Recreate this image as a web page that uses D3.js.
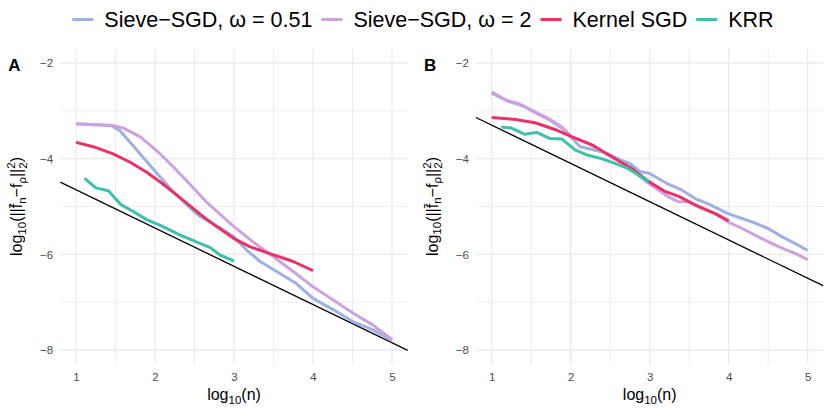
<!DOCTYPE html>
<html>
<head>
<meta charset="utf-8">
<script src="https://cdn.jsdelivr.net/npm/d3@7"></script>
<style>
  html, body { margin: 0; padding: 0; background: #fff; }
  svg { display: block; font-family: "Liberation Sans", Arial, Helvetica, sans-serif; }
</style>
</head>
<body>
<svg id="chart" width="830" height="415"></svg>
<script>
// ---------- DATA ----------
const seriesNames = ["Sieve\u2212SGD, \u03c9 = 0.51", "Sieve\u2212SGD, \u03c9 = 2", "Kernel SGD", "KRR"];
const seriesColors = ["#9fb0e2", "#cea2df", "#e8336a", "#3ec0aa"];
const panelLabels = ["A", "B"];

const xTicks = [1, 2, 3, 4, 5];
const yTicks = [-2, -4, -6, -8];
const xMinor = [1.5, 2.5, 3.5, 4.5];
const yMinor = [-3, -5, -7];
const xDomain = [0.8, 5.2];
const yDomain = [-8.3, -1.7];

// reference line (black): y = intercept + slope * x
const refIntercept = [-3.85, -2.50];
const refSlope = [-0.8, -0.8];

// Panel A
const aSieve051X = [1, 1.25, 1.45, 1.56, 1.77, 1.98, 2.19, 2.4, 2.57, 2.8, 3.0, 3.16, 3.33, 3.54, 3.79, 4.0, 4.26, 4.51, 4.76, 5.0];
const aSieve051Y = [-3.27, -3.29, -3.31, -3.42, -3.82, -4.22, -4.62, -4.96, -5.21, -5.42, -5.64, -5.91, -6.15, -6.36, -6.61, -6.92, -7.16, -7.41, -7.58, -7.80];
const aSieve2X = [1, 1.25, 1.45, 1.6, 1.81, 2.02, 2.23, 2.45, 2.66, 2.85, 3.0, 3.24, 3.5, 3.75, 4.0, 4.26, 4.51, 4.76, 5.0];
const aSieve2Y = [-3.27, -3.29, -3.30, -3.36, -3.54, -3.83, -4.17, -4.55, -4.92, -5.20, -5.42, -5.74, -6.05, -6.36, -6.68, -6.96, -7.23, -7.48, -7.78];
const aKernelX = [1, 1.22, 1.47, 1.68, 1.89, 2.1, 2.32, 2.57, 2.78, 3.0, 3.2, 3.5, 3.75, 4.0];
const aKernelY = [-3.66, -3.75, -3.90, -4.07, -4.28, -4.53, -4.82, -5.16, -5.42, -5.67, -5.84, -6.01, -6.15, -6.34];
const aKrrX = [1.11, 1.25, 1.41, 1.56, 1.73, 1.9, 2.06, 2.32, 2.57, 2.7, 2.82, 3.0];
const aKrrY = [-4.41, -4.61, -4.67, -4.95, -5.11, -5.28, -5.39, -5.60, -5.77, -5.86, -6.01, -6.14];

// Panel B
const bSieve051X = [1, 1.19, 1.4, 1.55, 1.72, 1.89, 2.12, 2.3, 2.46, 2.62, 2.75, 2.88, 3.0, 3.22, 3.39, 3.58, 3.75, 3.99, 4.17, 4.34, 4.5, 4.67, 4.84, 5.0];
const bSieve051Y = [-2.63, -2.79, -2.90, -3.04, -3.18, -3.36, -3.75, -3.82, -3.89, -4.02, -4.10, -4.27, -4.31, -4.52, -4.64, -4.84, -4.95, -5.15, -5.25, -5.35, -5.46, -5.63, -5.77, -5.92];
const bSieve2X = [1, 1.19, 1.34, 1.55, 1.72, 1.89, 2.01, 2.22, 2.48, 2.73, 2.99, 3.24, 3.36, 3.49, 3.66, 3.83, 3.99, 4.17, 4.42, 4.63, 4.84, 5.0];
const bSieve2Y = [-2.61, -2.78, -2.85, -3.02, -3.16, -3.34, -3.54, -3.68, -3.93, -4.17, -4.52, -4.80, -4.90, -4.90, -5.04, -5.15, -5.32, -5.46, -5.67, -5.84, -5.98, -6.11];
const bKernelX = [1, 1.3, 1.55, 1.8, 2.01, 2.27, 2.52, 2.77, 2.99, 3.2, 3.37, 3.58, 3.83, 4.0];
const bKernelY = [-3.14, -3.18, -3.25, -3.39, -3.54, -3.71, -3.96, -4.20, -4.48, -4.69, -4.79, -4.97, -5.15, -5.30];
const bKrrX = [1.12, 1.25, 1.42, 1.57, 1.74, 1.89, 2.06, 2.22, 2.39, 2.56, 2.73, 2.99];
const bKrrY = [-3.34, -3.36, -3.49, -3.45, -3.58, -3.59, -3.82, -3.93, -4.00, -4.10, -4.21, -4.48];

const panelSeries = [
  [[aSieve051X, aSieve051Y], [aSieve2X, aSieve2Y], [aKernelX, aKernelY], [aKrrX, aKrrY]],
  [[bSieve051X, bSieve051Y], [bSieve2X, bSieve2Y], [bKernelX, bKernelY], [bKrrX, bKrrY]]
];

// ---------- LAYOUT ----------
const svg = d3.select("#chart");
const panelLeft = [60.2, 475.9];
const panelWidth = 347.6;
const panelTop = 48.65, panelBottom = 364.35;
const gridColor = "#ebebeb";
const tickColor = "#4d4d4d";

panelSeries.forEach((series, p) => {
  const x = d3.scaleLinear().domain(xDomain).range([panelLeft[p], panelLeft[p] + panelWidth]);
  const y = d3.scaleLinear().domain(yDomain).range([panelBottom, panelTop]);
  const g = svg.append("g");

  // minor grid
  g.selectAll(".vmin").data(xMinor).join("line")
    .attr("x1", d => x(d)).attr("x2", d => x(d))
    .attr("y1", panelTop).attr("y2", panelBottom)
    .attr("stroke", gridColor).attr("stroke-width", 0.9);
  g.selectAll(".hmin").data(yMinor).join("line")
    .attr("y1", d => y(d)).attr("y2", d => y(d))
    .attr("x1", x.range()[0]).attr("x2", x.range()[1])
    .attr("stroke", gridColor).attr("stroke-width", 0.9);
  // major grid
  g.selectAll(".vmaj").data(xTicks).join("line")
    .attr("x1", d => x(d)).attr("x2", d => x(d))
    .attr("y1", panelTop).attr("y2", panelBottom)
    .attr("stroke", gridColor).attr("stroke-width", 1.3);
  g.selectAll(".hmaj").data(yTicks).join("line")
    .attr("y1", d => y(d)).attr("y2", d => y(d))
    .attr("x1", x.range()[0]).attr("x2", x.range()[1])
    .attr("stroke", gridColor).attr("stroke-width", 1.3);

  // axes tick labels via d3 axes
  const xAxis = d3.axisBottom(x).tickValues(xTicks).tickSize(0).tickPadding(0).tickFormat(d3.format("d"));
  const gx = g.append("g").attr("transform", `translate(0,${panelBottom + 17})`).call(xAxis);
  gx.select(".domain").remove();
  gx.selectAll("text").attr("fill", tickColor).attr("font-size", 11.5).attr("dy", "0").attr("font-family", "Liberation Sans, Arial, sans-serif");

  const yAxis = d3.axisLeft(y).tickValues(yTicks).tickSize(0).tickPadding(0)
    .tickFormat(d => (d < 0 ? "\u2212" : "") + Math.abs(d));
  const gy = g.append("g").attr("transform", `translate(${panelLeft[p] - 7},0)`).call(yAxis);
  gy.select(".domain").remove();
  gy.selectAll("text").attr("fill", tickColor).attr("font-size", 11.5).attr("font-family", "Liberation Sans, Arial, sans-serif");

  // clip
  const clipId = "clip" + p;
  svg.append("clipPath").attr("id", clipId).append("rect")
    .attr("x", x.range()[0]).attr("y", panelTop)
    .attr("width", panelWidth).attr("height", panelBottom - panelTop);

  // reference line
  const refXs = xDomain;
  g.append("line")
    .attr("clip-path", `url(#${clipId})`)
    .attr("x1", x(refXs[0])).attr("y1", y(refIntercept[p] + refSlope[p] * refXs[0]))
    .attr("x2", x(refXs[1])).attr("y2", y(refIntercept[p] + refSlope[p] * refXs[1]))
    .attr("stroke", "#000").attr("stroke-width", 1.3);

  const line = d3.line().x(d => x(d[0])).y(d => y(d[1])).curve(d3.curveLinear);
  series.forEach((s, i) => {
    const pts = s[0].map((v, k) => [v, s[1][k]]);
    g.append("path").datum(pts)
      .attr("d", line)
      .attr("fill", "none")
      .attr("stroke", seriesColors[i])
      .attr("stroke-width", 3)
      .attr("stroke-linejoin", "round")
      .attr("stroke-linecap", "butt");
  });

  // panel label
  svg.append("text").attr("x", panelLeft[p] - 52).attr("y", 71)
    .attr("font-size", 17).attr("font-weight", "bold").attr("fill", "#000")
    .text(panelLabels[p]);

  // x title: log10(n)
  const xt = svg.append("text")
    .attr("x", (x.range()[0] + x.range()[1]) / 2).attr("y", 400)
    .attr("text-anchor", "middle").attr("font-size", 16).attr("fill", "#000");
  xt.append("tspan").text("log");
  xt.append("tspan").attr("font-size", 11.5).attr("dy", 3.5).text("10");
  xt.append("tspan").attr("dy", -3.5).text("(n)");

  // y title
  const yt = svg.append("text")
    .attr("transform", `translate(${panelLeft[p] - 38},${(panelTop + panelBottom) / 2}) rotate(-90)`)
    .attr("text-anchor", "middle").attr("font-size", 16).attr("fill", "#000");
  yt.append("tspan").text("log");
  yt.append("tspan").attr("font-size", 11.5).attr("dy", 3.5).text("10");
  yt.append("tspan").attr("dy", -3.5).text("(||f\u0304");
  yt.append("tspan").attr("font-size", 11.5).attr("dy", 3.5).text("n");
  yt.append("tspan").attr("dy", -3.5).text("\u2212f");
  yt.append("tspan").attr("font-size", 11.5).attr("dy", 3.5).text("\u03c1");
  yt.append("tspan").attr("dy", -3.5).text("||");
  yt.append("tspan").attr("font-size", 11.5).attr("dy", -7).text("2");
  yt.append("tspan").attr("font-size", 11.5).attr("dx", -6.4).attr("dy", 11.5).text("2");
  yt.append("tspan").attr("dy", -4.5).text(")");
});

// ---------- LEGEND ----------
const legend = svg.append("g");
const legendY = 19.5;
const keyW = 21, keyGap = 11, itemGap = 9;
let cursor = 0;
seriesNames.forEach((name, i) => {
  const it = legend.append("g");
  it.append("line").attr("x1", 0).attr("x2", keyW).attr("y1", 0).attr("y2", 0)
    .attr("stroke", seriesColors[i]).attr("stroke-width", 3);
  const t = it.append("text").attr("x", keyW + keyGap).attr("y", 7.7).attr("font-size", 21.5).attr("fill", "#000").text(name);
  const w = keyW + keyGap + t.node().getComputedTextLength();
  it.attr("transform", `translate(${cursor},${legendY})`);
  cursor += w + itemGap;
});
const totalW = cursor - itemGap;
legend.attr("transform", `translate(${423 - totalW / 2},0)`);
</script>
</body>
</html>
